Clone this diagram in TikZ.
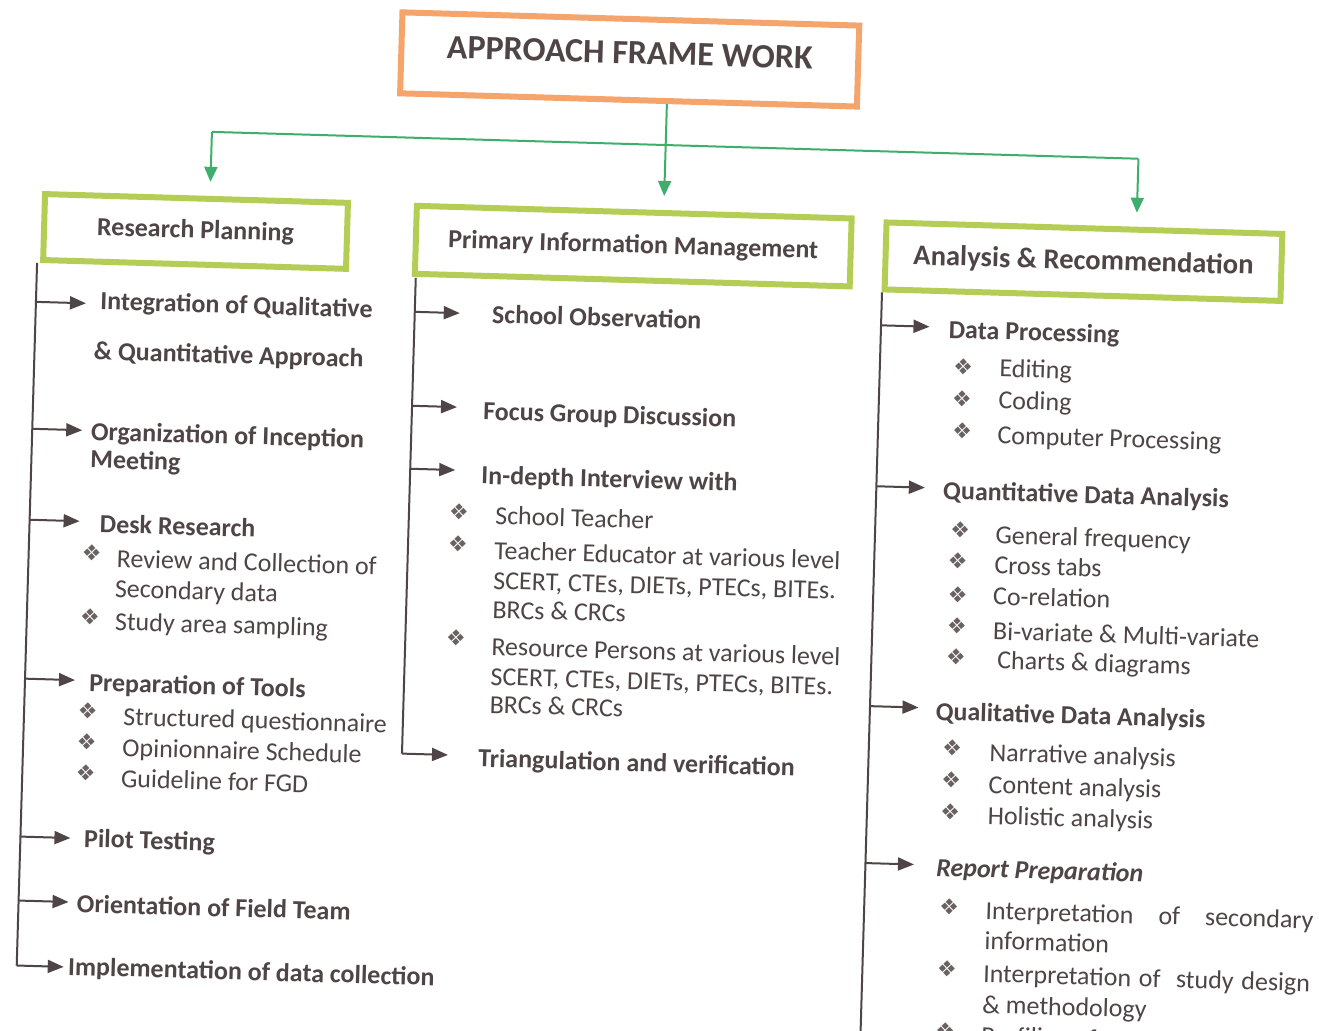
\documentclass[tikz,border=0pt]{standalone}
\usepackage{fontspec}
\setmainfont{Carlito}
\newfontfamily\dejavu{DejaVu Sans}
\usetikzlibrary{arrows.meta}
\definecolor{txt}{HTML}{4F4546}
\definecolor{orng}{HTML}{F5A56B}
\definecolor{gbx}{HTML}{B4CD55}
\definecolor{garrc}{HTML}{3DAE6C}
\newcommand\mytab[1]{\begin{tabular}[t]{@{}l@{}}#1\end{tabular}}
\tikzset{
  titlebox/.style={draw=orng, line width=3pt, font=\fontsize{17}{20}\selectfont\bfseries, text=txt},
  gbox/.style={draw=gbx, line width=3pt, font=\fontsize{13}{15.5}\selectfont\bfseries, text=txt},
  head/.style={anchor=base west, inner sep=0pt, font=\fontsize{13}{15.5}\selectfont\bfseries, text=txt},
  item/.style={anchor=base west, inner sep=0pt, font=\fontsize{13}{15.5}\selectfont, text=txt},
  bul/.style={inner sep=0pt, font=\dejavu\fontsize{11}{13}\selectfont, text=txt!85},
  trunk/.style={draw=txt, line width=1pt},
  arr/.style={draw=txt, line width=1pt, -{Triangle[length=8pt,width=6.5pt]}},
  gline/.style={draw=garrc, line width=1pt},
  garr/.style={gline, -{Triangle[length=7.5pt,width=6.5pt]}, shorten >=7pt},
}
\begin{document}
\begin{tikzpicture}[x=0.5pt, y=-0.5pt]
\useasboundingbox[fill=white] (0,0) rectangle (1319,1030);
\begin{scope}[rotate around={-1.66:(660,515)}, transform shape]
% title and boxes
\node[titlebox, minimum width=228.5pt, minimum height=40.5pt, text depth=7pt] (title) at (616.5,60.5) {APPROACH FRAME WORK};
\node[gbox, minimum width=151.5pt, minimum height=33pt] (rp) at (187.5,245) {Research Planning};
\node[gbox, minimum width=217.5pt, minimum height=34pt] (pim) at (625.5,247) {Primary Information Management};
\node[gbox, minimum width=198pt, minimum height=33.5pt, font=\fontsize{14.3}{17}\selectfont\bfseries] (ar) at (1076,249.5) {Analysis \& Recommendation};
% green fork
\coordinate (fl) at (201,145);
\coordinate (fm) at (655,145);
\coordinate (fr) at (1128,145);
\draw[gline] (fl) -- (fr);
\draw[garr] (fm |- title.south) -- (fm |- pim.north);
\draw[garr] (fl) -- (fl |- rp.north);
\draw[garr] (fr) -- (fr |- ar.north);

% ---------- left column ----------
\coordinate (lt0) at (30,281);
\coordinate (lt7s) at (30,984);
\draw[trunk] (lt0) -- (lt7s);
\foreach \n/\v in {1/320,2/447,3/538,4/697,5/855,6/919}{
  \coordinate (la\n) at (30,\v);
  \coordinate (lb\n) at (80,\v);
  \draw[arr] (la\n) -- (lb\n);
}
\coordinate (lb7) at (77,984);
\draw[arr] (lt7s) -- (lb7);
\node[head] (l1) at (89,326) {\mytab{\hspace{2.5pt}Integration of Qualitative\\[9.5pt]\& Quantitative Approach}};
\node[head] (l2) at (88.5,456.5) {\mytab{Organization of Inception\\[-1.5pt]Meeting}};
\node[head] (l3) at (100,549) {Desk Research};
\node[bul] (l3b1) at (93,569.5) {❖};
\node[item] (l3t1) at (117,583) {\mytab{\hspace{0.5pt}Review and Collection of\\[-0.5pt]Secondary data}};
\node[bul] (l3b2) at (93,633.5) {❖};
\node[item] (l3t2) at (118,646) {Study area sampling};
\node[head] (l4) at (94,707.6) {Preparation of Tools};
\node[bul] (l4b1) at (93.7,727.6) {❖};
\node[item] (l4t1) at (129,740.6) {Structured questionnaire};
\node[bul] (l4b2) at (93.6,758.6) {❖};
\node[item] (l4t2) at (129,771.6) {Opinionnaire Schedule};
\node[bul] (l4b3) at (93.5,789.6) {❖};
\node[item] (l4t3) at (128.5,802.6) {Guideline for FGD};
\node[head] (l5) at (93.4,863.7) {Pilot Testing};
\node[head] (l6) at (88,929) {Orientation of Field Team};
\node[head] (l7) at (81,992) {Implementation of data collection};

% ---------- middle column ----------
\coordinate (mt0) at (409,285);
\coordinate (mt4s) at (409,761);
\draw[trunk] (mt0) -- (mt4s);
\foreach \n/\v in {1/319,2/413,3/476}{
  \coordinate (ma\n) at (409,\v);
  \coordinate (mb\n) at (454,\v);
  \draw[arr] (ma\n) -- (mb\n);
}
\coordinate (mb4) at (455,761);
\draw[arr] (mt4s) -- (mb4);
\node[head] (m1) at (486,328) {School Observation};
\node[head] (m2) at (480,425) {Focus Group Discussion};
\node[head] (m3) at (480,489) {In-depth Interview with};
\node[bul] (m3b1) at (459,518) {❖};
\node[item] (m3t1) at (495,529) {School Teacher};
\node[bul] (m3b2) at (459,550) {❖};
\node[item] (m3t2) at (495,564) {\mytab{Teacher Educator at various level\\[-0.5pt]SCERT, CTEs, DIETs, PTECs, BITEs.\\[-1pt]BRCs \& CRCs}};
\node[bul] (m3b3) at (459.6,644) {❖};
\node[item] (m3t3) at (495,660) {\mytab{Resource Persons at various level\\[-0.5pt]SCERT, CTEs, DIETs, PTECs, BITEs.\\[-1.5pt]BRCs \& CRCs}};
\node[head] (m4) at (485,772) {Triangulation and verification};

% ---------- right column ----------
\coordinate (rt0) at (875.5,286);
\coordinate (rtend) at (875.5,1070);
\draw[trunk] (rt0) -- (rtend);
\foreach \n/\v in {1/319,2/480,3/700,4/857}{
  \coordinate (ra\n) at (875.5,\v);
  \coordinate (rb\n) at (924,\v);
  \draw[arr] (ra\n) -- (rb\n);
}
\node[head] (r1) at (943,330) {Data Processing};
\node[bul] (r1b1) at (958.7,358) {❖};
\node[item] (r1t1) at (994.8,367) {Editing};
\node[bul] (r1b2) at (958.6,390) {❖};
\node[item] (r1t2) at (994.7,399) {Coding};
\node[bul] (r1b3) at (959.6,422) {❖};
\node[item] (r1t3) at (994.7,434) {Computer Processing};
\node[head] (r2) at (942,491) {Quantitative Data Analysis};
\node[bul] (r2b1) at (960.4,521) {❖};
\node[item] (r2t1) at (995.6,534) {General frequency};
\node[bul] (r2b2) at (959,552) {❖};
\node[item] (r2t2) at (995.5,564) {Cross tabs};
\node[bul] (r2b3) at (960,586) {❖};
\node[item] (r2t3) at (995,595) {Co-relation};
\node[bul] (r2b4) at (960,617) {❖};
\node[item] (r2t4) at (996,630) {Bi-variate \& Multi-variate};
\node[bul] (r2b5) at (960,648) {❖};
\node[item] (r2t5) at (1001,659) {Charts \& diagrams};
\node[head] (r3) at (941,712) {Qualitative Data Analysis};
\node[bul] (r3b1) at (958.8,739.5) {❖};
\node[item] (r3t1) at (996,751.5) {Narrative analysis};
\node[bul] (r3b2) at (958.7,771.6) {❖};
\node[item] (r3t2) at (996,783.5) {Content analysis};
\node[bul] (r3b3) at (958.6,803.6) {❖};
\node[item] (r3t3) at (996,814.5) {Holistic analysis};
\node[head, font=\fontsize{13}{15.5}\selectfont\bfseries\itshape] (r4) at (946,868) {Report Preparation};
\node[bul] (r4b1) at (960.4,898.6) {❖};
\node[item] (r4t1) at (996.5,909.6) {\mytab{\makebox[164pt][s]{Interpretation of secondary}\\[-0.5pt]information}};
\node[bul] (r4b2) at (960,960.7) {❖};
\node[item] (r4t2) at (996,972.6) {\mytab{\makebox[163.5pt][s]{Interpretation of \ study design}\\[0pt]\& methodology}};
\node[bul] (r4b3) at (960,1022.7) {❖};
\node[item] (r4t3) at (996,1034.6) {Profiling of};
\end{scope}
\end{tikzpicture}
\end{document}
